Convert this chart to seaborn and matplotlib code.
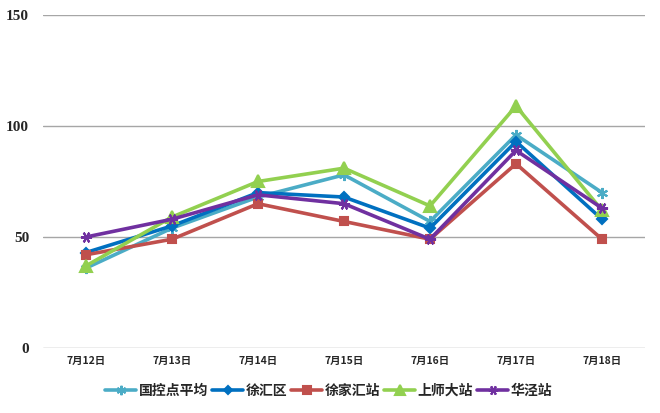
import matplotlib
matplotlib.use("Agg")
import matplotlib.pyplot as plt
import seaborn as sns
import pandas as pd

# --- data ---
dates = ["7月12日", "7月13日", "7月14日", "7月15日", "7月16日", "7月17日", "7月18日"]
series_names = ["国控点平均", "徐汇区", "徐家汇站", "上师大站", "华泾站"]
guokong = [36, 54, 68, 78, 57, 96, 70]
xuhui = [43, 55, 70, 68, 54, 93, 58]
xujiahui = [42, 49, 65, 57, 49, 83, 49]
shangshida = [37, 59, 75, 81, 64, 109, 62]
huajing = [50, 58, 69, 65, 49, 89, 63]

colors = ["#4BACC6", "#0070C0", "#C0504D", "#92D050", "#7030A0"]
markers = [(6, 2, 0), "D", "s", "^", (6, 2, 90)]
msizes = [8, 5, 6, 8, 8]

rows = []
for name, vals in zip(series_names, [guokong, xuhui, xujiahui, shangshida, huajing]):
    for d, v in zip(dates, vals):
        rows.append({"date": d, "series": name, "value": v})
df = pd.DataFrame(rows)

sns.set_style("white")
plt.rcParams["font.family"] = ["Noto Sans CJK SC", "DejaVu Sans"]

fig = plt.figure(figsize=(6.6, 4.13), dpi=100)
ax = fig.add_axes([43 / 660, 1 - 348 / 413, (645 - 43) / 660, (348 - 15) / 413])

for name, c, m, ms in zip(series_names, colors, markers, msizes):
    sub = df[df["series"] == name]
    sns.lineplot(data=sub, x="date", y="value", ax=ax, color=c, marker=m,
                 markersize=ms, markeredgecolor=c, markeredgewidth=1.5,
                 linewidth=2.6, label=name, sort=False)

ax.set_xlim(-0.5, len(dates) - 0.5)
ax.set_ylim(0, 150)
ax.set_yticks([0, 50, 100, 150])
ax.yaxis.grid(True, color="#A6A6A6", linewidth=1)
ax.xaxis.grid(False)
ax.set_axisbelow(True)
for s in ax.spines.values():
    s.set_visible(False)
ax.set_xlabel("")
ax.set_ylabel("")
ax.tick_params(axis="both", length=0)
ax.tick_params(axis="y", pad=10)
ax.tick_params(axis="x", pad=6)
for lab in ax.get_yticklabels():
    lab.set_fontfamily("Liberation Serif")
    lab.set_fontweight("bold")
    lab.set_fontsize(11)
for lab in ax.get_xticklabels():
    lab.set_fontweight("bold")
    lab.set_fontsize(7.5)

leg = ax.legend(loc="upper center", bbox_to_anchor=(0.475, -0.07), ncol=5,
                frameon=False, handlelength=2.2, handletextpad=0.2,
                columnspacing=0.3, markerscale=0.85,
                prop={"weight": "bold", "size": 10})

fig.savefig("out.png", dpi=100)
